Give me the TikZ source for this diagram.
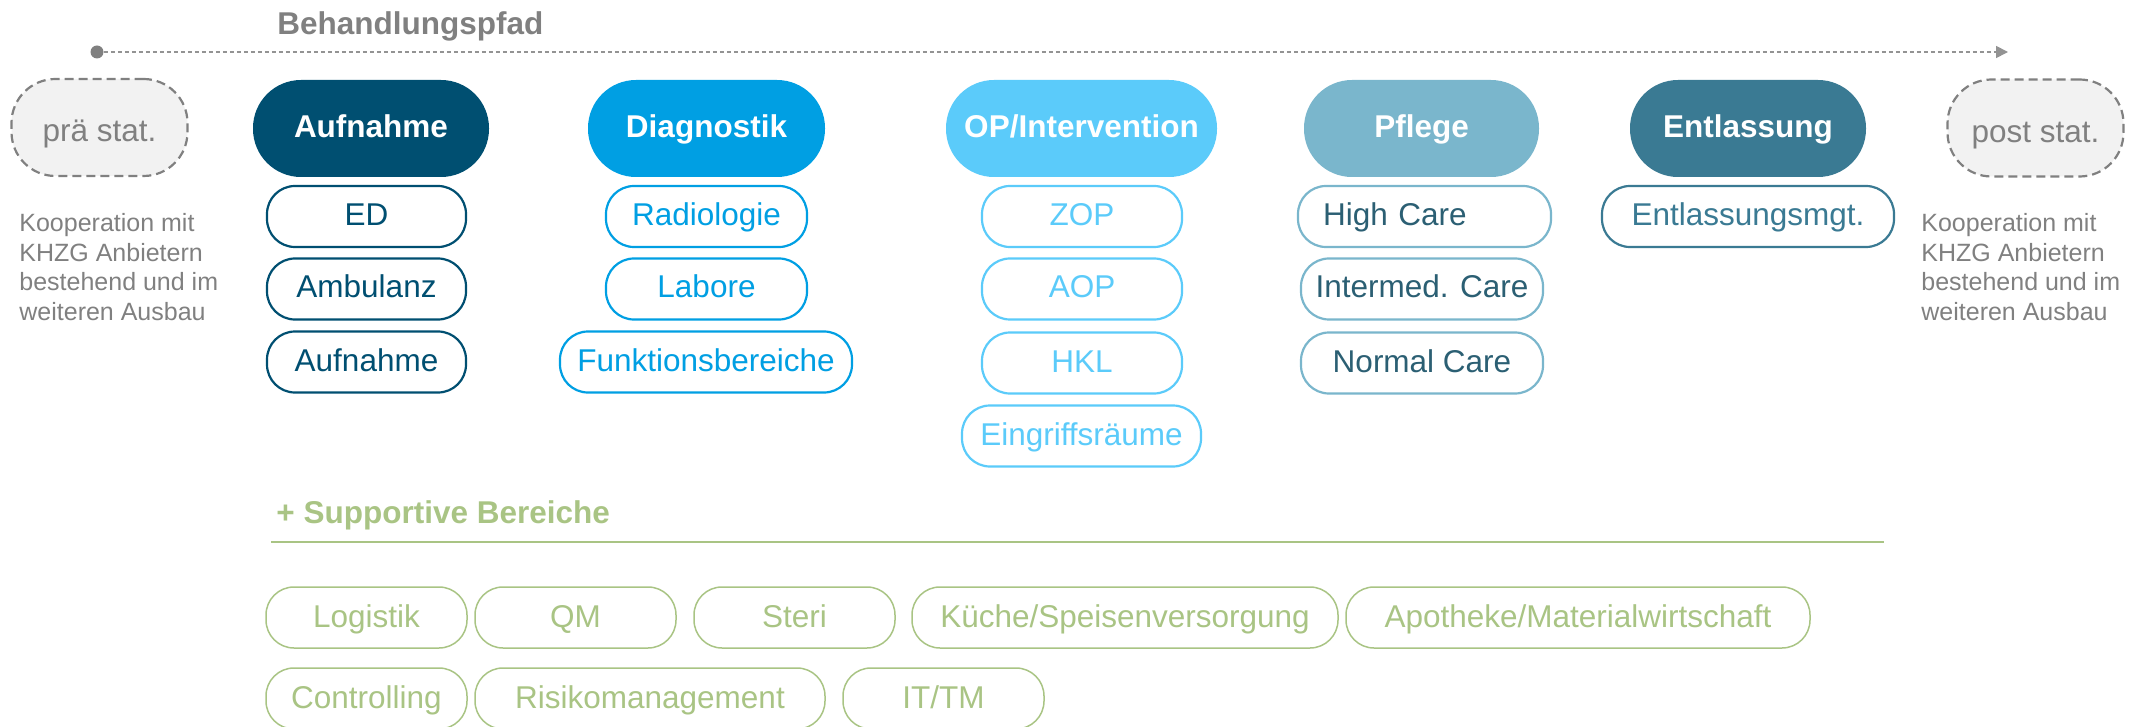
\documentclass[tikz,border=0pt]{standalone}
\usepackage{fontspec}
\setmainfont{Liberation Sans}
\usepackage{tikz}
\usetikzlibrary{arrows.meta, positioning}
\usepackage{xcolor}
\definecolor{aufnblue}{RGB}{0, 79, 113}
\definecolor{diagblue}{RGB}{0, 159, 227}
\definecolor{opblue}{RGB}{91, 203, 250}
\definecolor{pflegeblue}{RGB}{122, 182, 204}
\definecolor{pflegetext}{RGB}{43, 95, 115}
\definecolor{entlblue}{RGB}{58, 122, 147}
\definecolor{suppgreen}{RGB}{169, 196, 132}
\definecolor{pathgray}{RGB}{128, 128, 128}
\definecolor{statfill}{RGB}{242, 242, 242}
\newcommand{\bigtxt}{\fontsize{15.75}{18}\selectfont}
\newcommand{\smalltxt}{\fontsize{12.5}{14.75}\selectfont}

\begin{document}
\begin{tikzpicture}[
    x=0.5pt, y=-0.5pt,
    header/.style={rounded corners=24pt, minimum height=48.5pt,
                   inner sep=0pt, text height=11.5pt, text depth=2.5pt,
                   text=white, font=\bigtxt\bfseries},
    sub/.style={draw, line width=1.1pt, rounded corners=14pt, fill=white,
                minimum height=30.5pt, inner sep=0pt, text height=11.5pt,
                text depth=2.5pt, font=\bigtxt},
    stat/.style={draw=pathgray, fill=statfill, line width=1.1pt,
                 dash pattern=on 4.5pt off 2.5pt, rounded corners=22pt,
                 minimum width=88pt, minimum height=48.5pt, inner sep=0pt,
                 text height=17pt, text depth=2.5pt,
                 text=pathgray, font=\bigtxt},
    supp/.style={draw=suppgreen, line width=0.75pt, rounded corners=14pt,
                 minimum height=30.5pt, inner sep=0pt, text height=11.5pt,
                 text depth=2pt, text=suppgreen, font=\bigtxt},
    coop/.style={anchor=north west, align=left, inner sep=0pt,
                 text=pathgray, font=\smalltxt},
    title/.style={anchor=base west, inner sep=0pt, font=\bigtxt\bfseries},
  ]
    \useasboundingbox (0,0) rectangle (2136,727);

    % Behandlungspfad (top)
    \node[title, text=pathgray] (pfad) at (277,35) {Behandlungspfad};
    \node[circle, fill=pathgray, minimum size=6.5pt, inner sep=0pt]
      (pfadstart) at (97,52) {};
    \coordinate (pfadend) at (2008,52);
    \draw[pathgray!85, line width=0.8pt, dash pattern=on 2pt off 1.5pt,
          -{Triangle[length=6pt, width=6pt]}] (pfadstart) -- (pfadend);

    % vor- und nachstationaer
    \node[stat] (prae) at (99.5,127.5) {prä stat.};
    \node[stat] (post) at (2035.5,128) {post stat.};
    \node[coop] (coopl) at (19,213)
      {Kooperation mit\\KHZG Anbietern\\bestehend und im\\weiteren Ausbau};
    \node[coop] (coopr) at (1921,213)
      {Kooperation mit\\KHZG Anbietern\\bestehend und im\\weiteren Ausbau};

    % Aufnahme
    \node[header, fill=aufnblue, minimum width=118pt] (aufn) at (371,128.5) {Aufnahme};
    \node[sub, draw=aufnblue, text=aufnblue, minimum width=99.5pt] (ed) at (366.5,216.5) {ED};
    \node[sub, draw=aufnblue, text=aufnblue, minimum width=99.5pt] (amb) at (366.5,289) {Ambulanz};
    \node[sub, draw=aufnblue, text=aufnblue, minimum width=99.5pt] (aufnsub) at (366.5,362) {Aufnahme};

    % Diagnostik
    \node[header, fill=diagblue, minimum width=118.5pt] (diag) at (706.5,128.5) {Diagnostik};
    \node[sub, draw=diagblue, text=diagblue, minimum width=100.5pt] (radio) at (706.5,216.5) {Radiologie};
    \node[sub, draw=diagblue, text=diagblue, minimum width=100.5pt] (labore) at (706.5,289) {Labore};
    \node[sub, draw=diagblue, text=diagblue, minimum width=146pt] (funkt) at (706,362) {Funktionsbereiche};

    % OP/Intervention
    \node[header, fill=opblue, minimum width=135.5pt] (op) at (1081.5,128.5) {OP/Intervention};
    \node[sub, draw=opblue, text=opblue, minimum width=100pt] (zop) at (1082,216.5) {ZOP};
    \node[sub, draw=opblue, text=opblue, minimum width=100pt] (aop) at (1082,289) {AOP};
    \node[sub, draw=opblue, text=opblue, minimum width=100pt] (hkl) at (1082,363) {HKL};
    \node[sub, draw=opblue, text=opblue, minimum width=119.5pt] (eingr) at (1081.5,436) {Eingriffsräume};

    % Pflege
    \node[header, fill=pflegeblue, minimum width=117.5pt] (pflege) at (1421.5,128.5) {Pflege};
    \node[sub, draw=pflegeblue, text=pflegetext, text width=101.5pt,
          inner xsep=12.5pt, align=left] (high) at (1424.5,216.5) {High Care};
    \node[sub, draw=pflegeblue, text=pflegetext, minimum width=121pt] (inter) at (1422,289) {Intermed. Care};
    \node[sub, draw=pflegeblue, text=pflegetext, minimum width=121pt] (normal) at (1422,363) {Normal Care};

    % Entlassung
    \node[header, fill=entlblue, minimum width=118pt] (entl) at (1748,128.5) {Entlassung};
    \node[sub, draw=entlblue, text=entlblue, minimum width=146pt] (entlmgt) at (1748,216.5) {Entlassungsmgt.};

    % Supportive Bereiche
    \node[title, text=suppgreen] (supptitle) at (276,523) {+ Supportive Bereiche};
    \coordinate (suppl) at (271,542);
    \coordinate (suppr) at (1884,542);
    \draw[suppgreen, line width=0.8pt] (suppl) -- (suppr);

    \node[supp, minimum width=100.5pt] (logistik) at (366.5,617.5) {Logistik};
    \node[supp, minimum width=100.5pt] (qm) at (575.5,617.5) {QM};
    \node[supp, minimum width=100.5pt] (steri) at (794.5,617.5) {Steri};
    \node[supp, minimum width=213pt] (kueche) at (1125,617.5) {Küche/Speisenversorgung};
    \node[supp, minimum width=232pt] (apotheke) at (1578,617.5) {Apotheke/Materialwirtschaft};
    \node[supp, minimum width=100.5pt] (controlling) at (366.5,698.5) {Controlling};
    \node[supp, minimum width=175pt] (risiko) at (650,698.5) {Risikomanagement};
    \node[supp, minimum width=100.5pt] (ittm) at (943.5,698.5) {IT/TM};
  \end{tikzpicture}
\end{document}
